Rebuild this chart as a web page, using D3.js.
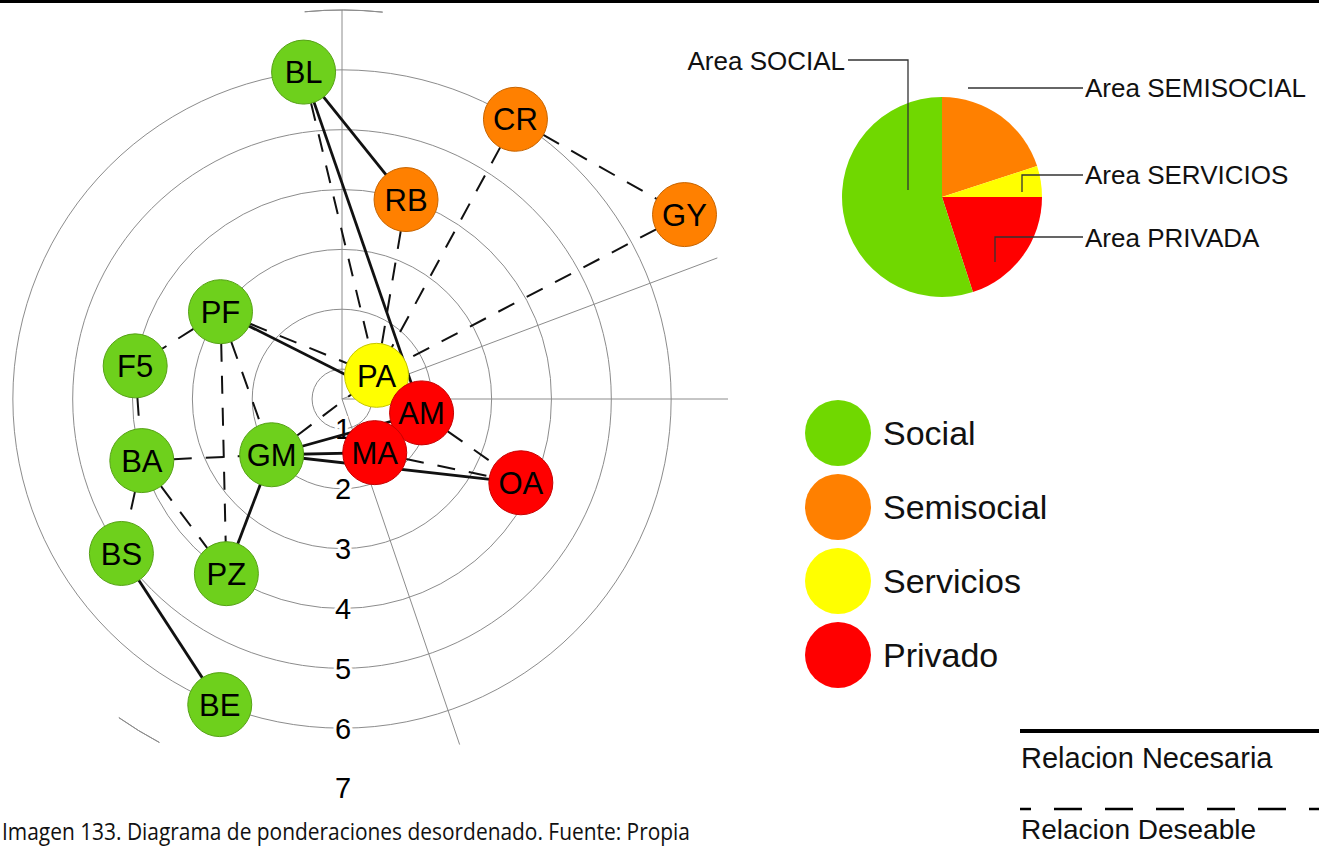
<!DOCTYPE html>
<html lang="es">
  <head>
    <meta charset="UTF-8" />
    <title>Diagrama de ponderaciones desordenado</title>
    <style>
      body {
        margin: 0;
        background: #ffffff;
      }
      svg {
        display: block;
        font-family: "Liberation Sans", Arial, sans-serif;
      }
      .ring {
        fill: none;
        stroke: #8c8c8c;
        stroke-width: 1;
      }
      .spoke {
        stroke: #8c8c8c;
        stroke-width: 1;
      }
      .ring-label {
        font-size: 29px;
        fill: #000;
        stroke: #fff;
        stroke-width: 6px;
        paint-order: stroke;
      }
      .node text {
        font-size: 31px;
        fill: #000;
      }
    </style>
    <script src="https://d3js.org/d3.v7.min.js"></script>
  </head>
  <body>
    <svg id="chart"></svg>
    <script>
      // nodos: nombre, grupo, anillo (ponderacion) y angulo en grados (desde el este, horario)
      const nodeNames = ["BL", "CR", "RB", "GY", "PF", "F5", "PA", "AM", "MA", "GM", "BA", "OA", "BS", "PZ", "BE"];
      const nodeGroups = ["Social", "Semisocial", "Semisocial", "Semisocial", "Social", "Social", "Servicios", "Privado", "Privado", "Social", "Social", "Privado", "Social", "Social", "Social"];
      const nodeRings = [6, 6, 4, 7, 3, 4, 1.2, 1.85, 1.55, 2, 4, 3.8, 5, 4, 6];
      const nodeAngles = [-96.7, -58.2, -72.2, -28.3, -144.3, -170.9, -34.4, 9.9, 58.6, 141.6, 162.9, 25.1, 145, 123.5, 111.8];

      const necessaryLinks = [
        ["BL", "RB"], ["BL", "AM"], ["PF", "AM"], ["GM", "AM"],
        ["GM", "MA"], ["GM", "OA"], ["GM", "PZ"], ["BS", "BE"],
      ];
      const desirableLinks = [
        ["BL", "PA"], ["RB", "PA"], ["CR", "PA"], ["CR", "GY"], ["GY", "PA"],
        ["PF", "PA"], ["PF", "F5"], ["PF", "GM"], ["PF", "PZ"], ["F5", "BA"],
        ["BA", "GM"], ["BA", "PZ"], ["BA", "BS"], ["GM", "PA"], ["AM", "OA"], ["MA", "OA"],
      ];

      const ringTicks = [1, 2, 3, 4, 5, 6, 7];
      const spokeAngles = [-90, 0, -20.6, 71.2];
      const spokeLengths = [7, 6.95, 7.2, 6.6];

      const groups = ["Social", "Semisocial", "Servicios", "Privado"];
      const groupColors = ["#70d800", "#ff8000", "#ffff00", "#ff0000"];
      const nodeColors = ["#6ed01c", "#ff8000", "#ffff00", "#ff0000"];

      const pieLabels = ["Area SEMISOCIAL", "Area SERVICIOS", "Area PRIVADA", "Area SOCIAL"];
      const pieValues = [20, 5, 20, 55];
      const pieGroups = ["Semisocial", "Servicios", "Privado", "Social"];

      const linkLabels = ["Relacion Necesaria", "Relacion Deseable"];
      const caption = "Imagen 133. Diagrama de ponderaciones desordenado. Fuente: Propia";

      const width = 1319;
      const height = 846;
      const cx = 342;
      const cy = 399;

      const svg = d3.select("#chart").attr("width", width).attr("height", height);

      svg.append("rect").attr("width", width).attr("height", 3).attr("fill", "#000");

      const radius = d3.scaleLinear().domain([0.5, 7]).range([0, 389]);
      const color = d3.scaleOrdinal().domain(groups).range(groupColors);
      const nodeColor = d3.scaleOrdinal().domain(groups).range(nodeColors);
      const rad = (deg) => (deg * Math.PI) / 180;

      const nodes = nodeNames.map((name, i) => {
        const rr = radius(nodeRings[i]);
        return {
          name,
          group: nodeGroups[i],
          x: cx + rr * Math.cos(rad(nodeAngles[i])),
          y: cy + rr * Math.sin(rad(nodeAngles[i])),
        };
      });
      const byName = new Map(nodes.map((d) => [d.name, d]));

      const g = svg.append("g");

      // anillos completos 1-6, el 7 solo quedan fragmentos
      g.selectAll("circle.ring")
        .data(ringTicks.slice(0, 6))
        .join("circle")
        .attr("class", "ring")
        .attr("cx", cx)
        .attr("cy", cy)
        .attr("r", (d) => radius(d));

      const arc7 = d3.arc().innerRadius(radius(7)).outerRadius(radius(7));
      g.selectAll("path.ring")
        .data([[-5.5, 6], [208, 215]])
        .join("path")
        .attr("class", "ring")
        .attr("transform", `translate(${cx},${cy})`)
        .attr("d", (d) => arc7({ startAngle: rad(d[0]), endAngle: rad(d[1]) }));

      g.selectAll("line.spoke")
        .data(spokeAngles)
        .join("line")
        .attr("class", "spoke")
        .attr("x1", cx)
        .attr("y1", cy)
        .attr("x2", (d, i) => cx + radius(spokeLengths[i]) * Math.cos(rad(d)))
        .attr("y2", (d, i) => cy + radius(spokeLengths[i]) * Math.sin(rad(d)));

      g.selectAll("text.ring-label")
        .data(ringTicks)
        .join("text")
        .attr("class", "ring-label")
        .attr("x", cx + 1)
        .attr("y", (d) => cy + radius(d))
        .attr("dy", "0.36em")
        .attr("text-anchor", "middle")
        .text((d) => d);

      const drawLinks = (links, dashed) =>
        g.append("g")
          .selectAll("line")
          .data(links)
          .join("line")
          .attr("x1", (d) => byName.get(d[0]).x)
          .attr("y1", (d) => byName.get(d[0]).y)
          .attr("x2", (d) => byName.get(d[1]).x)
          .attr("y2", (d) => byName.get(d[1]).y)
          .attr("stroke", "#111")
          .attr("stroke-width", dashed ? 2 : 2.8)
          .attr("stroke-dasharray", dashed ? "18,14" : null);

      drawLinks(desirableLinks, true);
      drawLinks(necessaryLinks, false);

      const node = g.selectAll("g.node")
        .data(nodes)
        .join("g")
        .attr("class", "node")
        .attr("transform", (d) => `translate(${d.x},${d.y})`);
      node.append("circle")
        .attr("r", 32)
        .attr("fill", (d) => nodeColor(d.group))
        .attr("stroke", (d) => d3.color(nodeColor(d.group)).darker(0.7))
        .attr("stroke-width", 1);
      node.append("text")
        .attr("text-anchor", "middle")
        .attr("dy", "0.36em")
        .text((d) => d.name);

      // tarta de areas
      const pcx = 942, pcy = 197, pr = 100;
      const pie = d3.pie().sort(null).value((d) => d.value);
      const arcs = pie(pieValues.map((v, i) => ({ value: v, group: pieGroups[i] })));
      svg.append("g")
        .attr("transform", `translate(${pcx},${pcy})`)
        .selectAll("path")
        .data(arcs)
        .join("path")
        .attr("d", d3.arc().innerRadius(0).outerRadius(pr))
        .attr("fill", (d) => color(d.data.group));

      const leaders = [
        { pts: [[968, 88], [1083, 88]], tx: 1085, ty: 97, anchor: "start" },
        { pts: [[1022, 192], [1022, 175], [1083, 175]], tx: 1085, ty: 184, anchor: "start" },
        { pts: [[995, 262], [995, 237], [1083, 237]], tx: 1085, ty: 247, anchor: "start" },
        { pts: [[908, 190], [908, 60], [848, 60]], tx: 845, ty: 70, anchor: "end" },
      ];
      const lbl = svg.append("g");
      lbl.selectAll("path")
        .data(leaders)
        .join("path")
        .attr("d", (d) => d3.line()(d.pts))
        .attr("fill", "none")
        .attr("stroke", "#333")
        .attr("stroke-width", 1.3);
      lbl.selectAll("text")
        .data(leaders)
        .join("text")
        .attr("x", (d) => d.tx)
        .attr("y", (d) => d.ty)
        .attr("text-anchor", (d) => d.anchor)
        .attr("font-size", 26)
        .attr("fill", "#111")
        .text((d, i) => pieLabels[i]);

      // leyenda de grupos
      const legend = svg.append("g")
        .selectAll("g")
        .data(groups)
        .join("g")
        .attr("transform", (d, i) => `translate(838,${433 + i * 74})`);
      legend.append("circle")
        .attr("r", 33)
        .attr("fill", (d) => color(d));
      legend.append("text")
        .attr("x", 45)
        .attr("dy", "0.36em")
        .attr("font-size", 34)
        .attr("fill", "#111")
        .text((d) => d);

      // leyenda de relaciones
      const rel = svg.append("g")
        .selectAll("g")
        .data(linkLabels)
        .join("g")
        .attr("transform", (d, i) => `translate(1020,${731 + i * 78})`);
      rel.append("line")
        .attr("x2", 300)
        .attr("stroke", "#000")
        .attr("stroke-width", (d, i) => (i ? 2.5 : 4))
        .attr("stroke-dasharray", (d, i) => (i ? "28,23" : null))
        .attr("stroke-dashoffset", (d, i) => (i ? 17 : null));
      rel.append("text")
        .attr("x", 1)
        .attr("y", (d, i) => (i ? 30 : 37))
        .attr("font-size", (d, i) => (i ? 28 : 29))
        .attr("fill", "#111")
        .text((d) => d);

      svg.append("text")
        .attr("x", 2)
        .attr("y", 840)
        .attr("font-family", "'Open Sans', 'Noto Sans', sans-serif")
        .attr("font-size", 23)
        .attr("textLength", 688)
        .attr("lengthAdjust", "spacingAndGlyphs")
        .attr("fill", "#111")
        .text(caption);
    </script>
  </body>
</html>
